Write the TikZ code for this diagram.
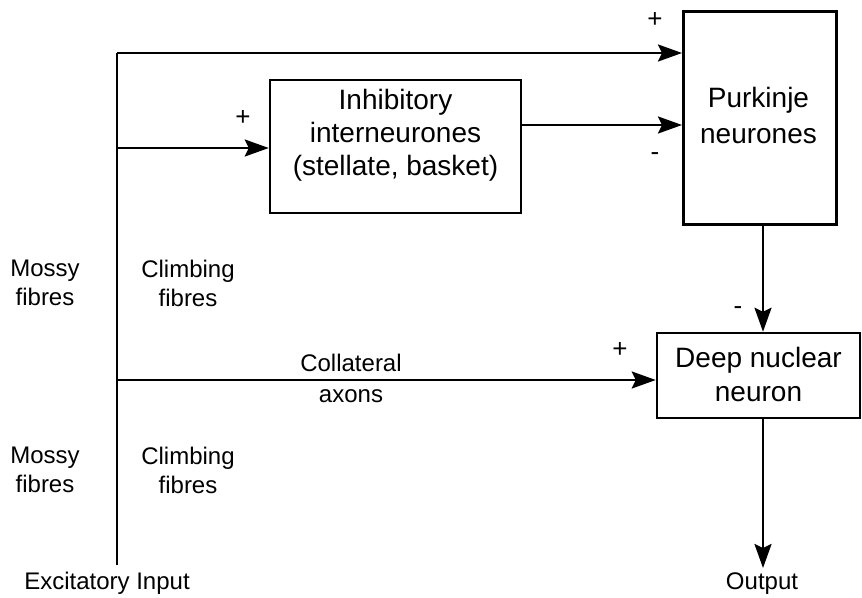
\documentclass[tikz,border=0pt]{standalone}
\usepackage{fontspec}
\setmainfont{Liberation Sans}
\usetikzlibrary{arrows.meta}
\begin{document}
\begin{tikzpicture}[x=1pt,y=-1pt,
  box/.style={draw,line width=2.5pt,inner sep=0pt},
  boxtext/.style={font=\fontsize{28}{33}\selectfont,align=center},
  conn/.style={line width=2.5pt},
  arr/.style={conn,-{Stealth[length=24pt,width=17pt,inset=4pt]}},
  sign/.style={font=\fontsize{26}{28}\selectfont},
  lab/.style={font=\fontsize{24}{29}\selectfont,align=center}]
\useasboundingbox (0,0) rectangle (862,597);
\node[box,minimum width=153pt,minimum height=213pt,anchor=north west] (pk) at (682,10) {};
\node[boxtext,font=\fontsize{28}{36}\selectfont] (pkt) at (758.5,115) {Purkinje\\neurones};
\node[box,minimum width=251pt,minimum height=133pt] (inh) at (395.5,146.5) {};
\node[boxtext] (inht) at (395.5,135) {Inhibitory\\interneurones\\(stellate, basket)};
\node[box,minimum width=203pt,minimum height=85pt] (dn) at (758.5,375.5) {};
\node[boxtext,font=\fontsize{28}{34}\selectfont] (dnt) at (758.5,374) {Deep nuclear\\neuron};
\coordinate (bot) at (117,565);
\coordinate (tl) at (117,53);
\coordinate (jA) at (117,148);
\coordinate (jB) at (117,380);
\coordinate (out) at (763,568);
\draw[conn] (bot) -- (tl);
\draw[arr] (tl) -- (pk.west |- tl);
\draw[arr] (jA) -- (inh.west |- jA);
\draw[arr] (inh.east |- 0,125) -- (pk.west |- 0,125);
\draw[arr] (jB) -- (dn.west |- jB);
\draw[arr] (pk.south -| 763,0) -- (dn.north -| 763,0);
\draw[arr] (dn.south -| 763,0) -- (out);
\node[sign] (s1) at (655,20) {+};
\node[sign] (s2) at (243,118) {+};
\node[sign] (s3) at (655,157) {-};
\node[sign] (s4) at (738,311) {-};
\node[sign] (s5) at (620,350) {+};
\node[lab] (m1) at (45,283) {Mossy\\fibres};
\node[lab] (m2) at (45,470) {Mossy\\fibres};
\node[lab] (c1) at (188,283) {Climbing\\fibres};
\node[lab] (c2) at (188,470) {Climbing\\fibres};
\node[lab,font=\fontsize{24}{31}\selectfont] (ca) at (351,378) {Collateral\\axons};
\node[lab] (ex) at (107,583) {Excitatory Input};
\node[lab] (op) at (762,584) {Output};
\end{tikzpicture}
\end{document}
